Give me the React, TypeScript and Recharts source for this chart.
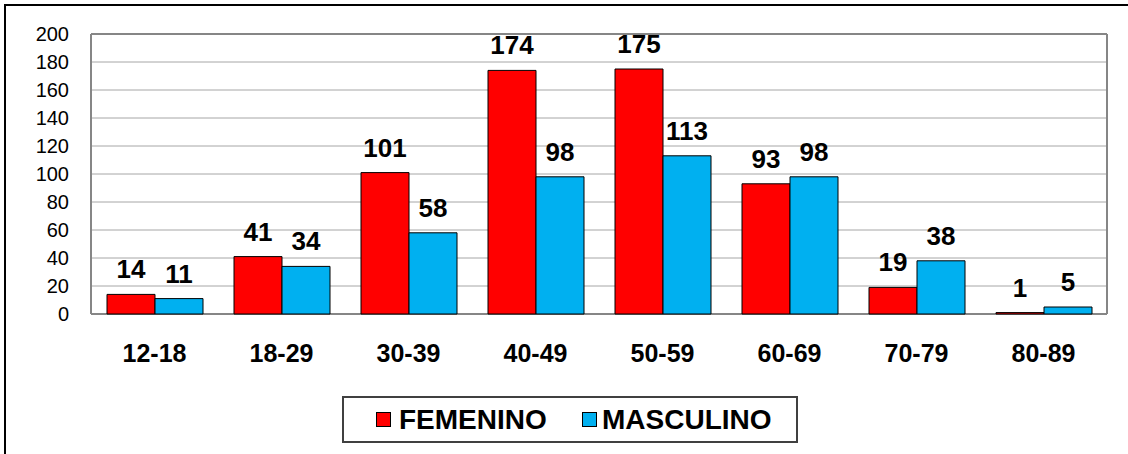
import React from 'react';
import { BarChart, Bar, XAxis, YAxis, CartesianGrid, LabelList } from 'recharts';

const categories = ['12-18', '18-29', '30-39', '40-49', '50-59', '60-69', '70-79', '80-89'];
const femenino = [14, 41, 101, 174, 175, 93, 19, 1];
const masculino = [11, 34, 58, 98, 113, 98, 38, 5];
const yTicks = [0, 20, 40, 60, 80, 100, 120, 140, 160, 180, 200];
const seriesNames = ['FEMENINO', 'MASCULINO'];
const seriesColors = ['#FF0000', '#00B0F0'];

const data = categories.map((c, i) => ({ cat: c, f: femenino[i], m: masculino[i] }));

const FONT = "'Liberation Sans', Arial, sans-serif";

export default function App() {
  return (
    <div style={{ position: 'absolute', left: 0, top: 0, width: 1128, height: 454, overflow: 'hidden', background: '#fff', fontFamily: FONT }}>
      <div style={{ position: 'absolute', left: 4, top: 4, width: 1140, height: 470, border: '2px solid #000', boxSizing: 'border-box' }} />
      <div style={{ position: 'absolute', left: 0, top: 0 }}>
        <BarChart
          width={1128}
          height={454}
          data={data}
          margin={{ top: 34, right: 21, bottom: 100, left: 0 }}
          barSize={48}
          barGap={0}
        >
          <CartesianGrid vertical={false} stroke="#A6A6A6" strokeWidth={1} />
          <CartesianGrid vertical={true} horizontal={true} verticalPoints={[91, 1107]} horizontalPoints={[34, 314]} stroke="#868686" strokeWidth={2} fill="none" />
          <XAxis
            dataKey="cat"
            height={40}
            axisLine={false}
            tickLine={false}
            tickSize={0}
            tickMargin={30}
            interval={0}
            tick={{ fill: '#000', fontSize: 25, fontWeight: 'bold', fontFamily: FONT }}
          />
          <YAxis
            width={91}
            domain={[0, 200]}
            ticks={yTicks}
            interval={0}
            axisLine={false}
            tickLine={false}
            tickSize={0}
            tickMargin={22}
            tick={{ fill: '#000', fontSize: 20, fontFamily: FONT }}
          />
          <Bar dataKey="f" name={seriesNames[0]} fill={seriesColors[0]} stroke="#000" strokeWidth={1} isAnimationActive={false}>
            <LabelList dataKey="f" position="top" offset={16} fill="#000" fontSize={26} fontWeight="bold" fontFamily={FONT} />
          </Bar>
          <Bar dataKey="m" name={seriesNames[1]} fill={seriesColors[1]} stroke="#000" strokeWidth={1} isAnimationActive={false}>
            <LabelList dataKey="m" position="top" offset={16} fill="#000" fontSize={26} fontWeight="bold" fontFamily={FONT} />
          </Bar>
        </BarChart>
      </div>
      <div style={{ position: 'absolute', left: 342, top: 396, width: 456, height: 47, border: '2px solid #404040', boxSizing: 'border-box', background: '#fff' }}>
        <div style={{ position: 'absolute', left: 32, top: 14, width: 15, height: 15, background: seriesColors[0], border: '1px solid #000', boxSizing: 'border-box' }} />
        <div style={{ position: 'absolute', left: 55, top: 8, fontSize: 28, lineHeight: '28px', fontWeight: 'bold', color: '#000', whiteSpace: 'nowrap' }}>{seriesNames[0]}</div>
        <div style={{ position: 'absolute', left: 238, top: 14, width: 15, height: 15, background: seriesColors[1], border: '1px solid #000', boxSizing: 'border-box' }} />
        <div style={{ position: 'absolute', left: 258, top: 8, fontSize: 28, lineHeight: '28px', fontWeight: 'bold', color: '#000', whiteSpace: 'nowrap' }}>{seriesNames[1]}</div>
      </div>
    </div>
  );
}
